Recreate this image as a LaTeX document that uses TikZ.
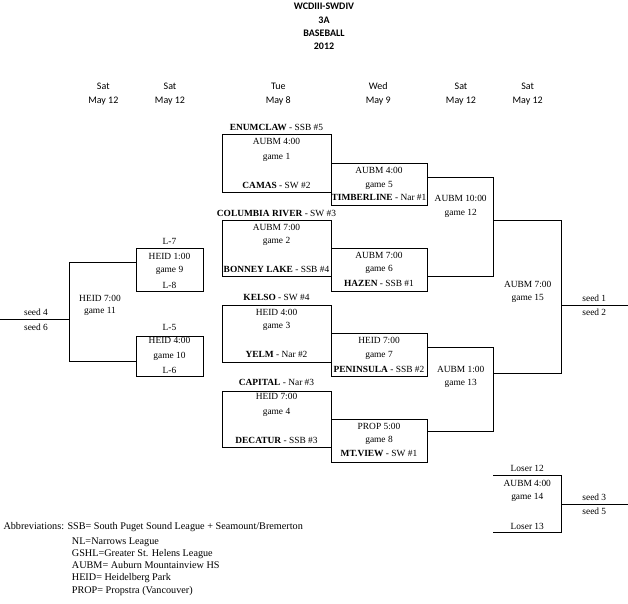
\documentclass[tikz,border=0pt]{standalone}
\usepackage{fontspec}
\setmainfont{Liberation Serif}
\newfontfamily\calibri{Carlito}
\begin{document}
\begin{tikzpicture}[x=1pt,y=-1pt,
  tx/.style={inner sep=0pt, font=\fontsize{9.4}{11}\selectfont},
  ab/.style={inner sep=0pt, anchor=base west, font=\fontsize{10.2}{12}\selectfont},
  hd/.style={inner sep=0pt, align=center, font=\calibri\fontsize{10}{13.4}\selectfont},
  ttl/.style={inner sep=0pt, align=center, font=\calibri\bfseries\fontsize{10}{13.3}\selectfont},
  gbox/.style={draw, line width=0.9pt, inner sep=0pt},
  ln/.style={line width=0.9pt}]
\useasboundingbox (0,0) rectangle (628,603);

% title and headers
\node[ttl] (title) at (324,26.7) {WCDIII-SWDIV\\3A\\BASEBALL\\2012};
\node[hd] (h1) at (103.3,94) {Sat\\May 12};
\node[hd] (h2) at (170,94) {Sat\\May 12};
\node[hd] (h3) at (278.3,94) {Tue\\May 8};
\node[hd] (h4) at (378.3,94) {Wed\\May 9};
\node[hd] (h5) at (461,94) {Sat\\May 12};
\node[hd] (h6) at (527.7,94) {Sat\\May 12};

% first round boxes
\node[gbox, minimum width=109, minimum height=58] (g1) at (276.5,163) {};
\node[gbox, minimum width=109, minimum height=56] (g2) at (276.5,248) {};
\node[gbox, minimum width=109, minimum height=57] (g3) at (276.5,333.5) {};
\node[gbox, minimum width=109, minimum height=56] (g4) at (276.5,419) {};
% second round boxes
\node[gbox, minimum width=96, minimum height=42] (g5) at (379,184) {};
\node[gbox, minimum width=96, minimum height=43] (g6) at (379,269.5) {};
\node[gbox, minimum width=96, minimum height=43] (g7) at (379,354.5) {};
\node[gbox, minimum width=96, minimum height=43] (g8) at (379,440.5) {};
% consolation boxes
\node[gbox, minimum width=67, minimum height=43] (g9) at (169.5,269.5) {};
\node[gbox, minimum width=67, minimum height=40] (g10) at (169.5,356) {};

% game 1
\node[tx] (t1a) at (276.5,127.7) {\textbf{ENUMCLAW} - SSB \#5};
\node[tx] (t1b) at (276.5,141.7) {AUBM 4:00};
\node[tx] (t1c) at (276.5,157.3) {game 1};
\node[tx] (t1d) at (276.5,185.7) {\textbf{CAMAS} - SW \#2};
% game 2
\node[tx] (t2a) at (276.5,213) {\textbf{COLUMBIA RIVER} - SW \#3};
\node[tx] (t2b) at (276.5,227.3) {AUBM 7:00};
\node[tx] (t2c) at (276.5,241.7) {game 2};
\node[tx] (t2d) at (276.5,269.3) {\textbf{BONNEY LAKE} - SSB \#4};
% game 3
\node[tx] (t3a) at (276.5,297.3) {\textbf{KELSO} - SW \#4};
\node[tx] (t3b) at (276.5,312.3) {HEID 4:00};
\node[tx] (t3c) at (276.5,326.7) {game 3};
\node[tx] (t3d) at (276.5,354.3) {\textbf{YELM} - Nar \#2};
% game 4
\node[tx] (t4a) at (276.5,382.7) {\textbf{CAPITAL} - Nar \#3};
\node[tx] (t4b) at (276.5,396.7) {HEID 7:00};
\node[tx] (t4c) at (276.5,412.3) {game 4};
\node[tx] (t4d) at (276.5,440.7) {\textbf{DECATUR} - SSB \#3};
% game 5
\node[tx] (t5b) at (379,170.7) {AUBM 4:00};
\node[tx] (t5c) at (379,185.7) {game 5};
\node[tx] (t5d) at (379,197.7) {\textbf{TIMBERLINE} - Nar \#1};
% game 6
\node[tx] (t6b) at (379,255) {AUBM 7:00};
\node[tx] (t6c) at (379,269.3) {game 6};
\node[tx] (t6d) at (379,283.3) {\textbf{HAZEN} - SSB \#1};
% game 7
\node[tx] (t7b) at (379,340.7) {HEID 7:00};
\node[tx] (t7c) at (379,355) {game 7};
\node[tx] (t7d) at (379,369) {\textbf{PENINSULA} - SSB \#2};
% game 8
\node[tx] (t8b) at (379,426) {PROP 5:00};
\node[tx] (t8c) at (379,440.7) {game 8};
\node[tx] (t8d) at (379,453.3) {\textbf{MT.VIEW} - SW \#1};
% game 9
\node[tx] (t9a) at (169.5,241.7) {L-7};
\node[tx] (t9b) at (169.5,256) {HEID 1:00};
\node[tx] (t9c) at (169.5,270.7) {game 9};
\node[tx] (t9d) at (169.5,285) {L-8};
% game 10
\node[tx] (t10a) at (169.5,327.3) {L-5};
\node[tx] (t10b) at (169.5,340.7) {HEID 4:00};
\node[tx] (t10c) at (169.5,356) {game 10};
\node[tx] (t10d) at (169.5,370) {L-6};
% game 11
\node[tx] (t11b) at (100,298.3) {HEID 7:00};
\node[tx] (t11c) at (100,311.7) {game 11};
\node[tx] (s4) at (36,312.7) {seed 4};
\node[tx] (s6) at (36,327.3) {seed 6};
% game 12
\node[tx] (t12b) at (460.7,198.3) {AUBM 10:00};
\node[tx] (t12c) at (460.7,213.3) {game 12};
% game 13
\node[tx] (t13b) at (460.7,369.3) {AUBM 1:00};
\node[tx] (t13c) at (460.7,383.3) {game 13};
% game 15
\node[tx] (t15b) at (527.7,284) {AUBM 7:00};
\node[tx] (t15c) at (527.7,298.3) {game 15};
\node[tx] (s1) at (594.3,298.3) {seed 1};
\node[tx] (s2) at (594.3,312.7) {seed 2};
% game 14
\node[tx] (t14a) at (527.3,468.3) {Loser 12};
\node[tx] (t14b) at (527.3,483.3) {AUBM 4:00};
\node[tx] (t14c) at (527.3,497.3) {game 14};
\node[tx] (t14d) at (527.3,526) {Loser 13};
\node[tx] (s3) at (594.3,497.3) {seed 3};
\node[tx] (s5) at (594.3,511.7) {seed 5};

% bracket coordinates
\coordinate (c12t) at (493.3,177.3);
\coordinate (c12b) at (493.3,276.7);
\coordinate (c12o) at (493.3,220);
\coordinate (c13t) at (493.7,347.3);
\coordinate (c13b) at (493.7,431.7);
\coordinate (c13o) at (493.7,373.3);
\coordinate (c15t) at (561,220);
\coordinate (c15b) at (561,373.3);
\coordinate (c15s) at (561,305);
\coordinate (e15) at (628,305);
\coordinate (c11t) at (69.3,262.7);
\coordinate (c11b) at (69.3,361);
\coordinate (c11s) at (69.3,319.3);
\coordinate (e11) at (0,319.3);
\coordinate (c14tl) at (493.3,475.7);
\coordinate (c14tr) at (561.7,475.7);
\coordinate (c14bl) at (493.3,532.7);
\coordinate (c14br) at (561.7,532.7);
\coordinate (c14s) at (561.7,504);
\coordinate (e14) at (628,504);

% game 12 bracket
\draw[ln] (g5.east |- c12t) -- (c12t) -- (c12b) -- (g6.east |- c12b);
% game 13 bracket
\draw[ln] (g7.east |- c13t) -- (c13t) -- (c13b) -- (g8.east |- c13b);
% game 15 bracket
\draw[ln] (c12o) -- (c15t) -- (c15b) -- (c13o);
\draw[ln] (c15s) -- (e15);
% game 11 bracket
\draw[ln] (g9.west |- c11t) -- (c11t) -- (c11b) -- (g10.west |- c11b);
\draw[ln] (c11s) -- (e11);
% game 14 bracket
\draw[ln] (c14tl) -- (c14tr) -- (c14br) -- (c14bl);
\draw[ln] (c14s) -- (e14);

% abbreviations
\node[ab] (ab1) at (3.3,529.2) {Abbreviations: SSB= South Puget Sound League + Seamount/Bremerton};
\node[ab] (ab2) at (71.7,544.2) {NL=Narrows League};
\node[ab] (ab3) at (71.7,556.4) {GSHL=Greater St. Helens League};
\node[ab] (ab4) at (71.7,568.6) {AUBM= Auburn Mountainview HS};
\node[ab] (ab5) at (71.7,580.8) {HEID= Heidelberg Park};
\node[ab] (ab6) at (71.7,593) {PROP= Propstra (Vancouver)};
\end{tikzpicture}
\end{document}
